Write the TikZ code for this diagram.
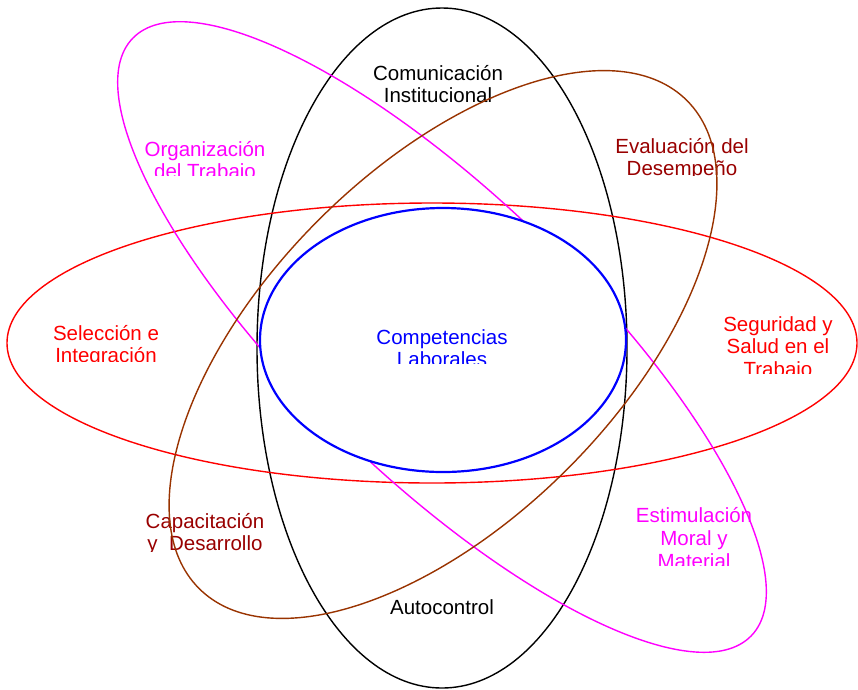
\documentclass[tikz,border=0pt]{standalone}
\usepackage{fontspec}
\setmainfont{Liberation Sans}
\definecolor{mag}{RGB}{255,0,255}
\definecolor{brn}{RGB}{153,51,0}
\definecolor{dred}{RGB}{153,0,0}
\definecolor{blu}{RGB}{0,0,255}
\definecolor{rd}{RGB}{255,0,0}
\begin{document}
\begin{tikzpicture}[x=1pt,y=-1pt,
  lbl/.style={anchor=base,inner sep=0pt,font=\fontsize{20.5}{22}\selectfont},
  ring/.style={line width=1.4pt}]
\useasboundingbox[fill=white] (0,0) rectangle (858,689);
% labels (clipped like the reference)
\begin{scope}\clip (330,50) rectangle (550,103);
 \node[lbl,text=black] (c1) at (438,80) {Comunicación};
 \node[lbl,text=black] (c2) at (438,102) {Institucional};
\end{scope}
\begin{scope}\clip (590,120) rectangle (780,175);
 \node[lbl,text=dred] (e1) at (682,153) {Evaluación del};
 \node[lbl,text=dred] (e2) at (682,175) {Desempeño};
\end{scope}
\begin{scope}\clip (120,120) rectangle (290,175);
 \node[lbl,text=mag] (o1) at (205,156) {Organización};
 \node[lbl,text=mag] (o2) at (205,178) {del Trabajo};
\end{scope}
\begin{scope}\clip (30,300) rectangle (190,361);
 \node[lbl,text=rd] (s1) at (106,340) {Selección e};
 \node[lbl,text=rd] (s2) at (106,362) {Integración};
\end{scope}
\begin{scope}\clip (700,290) rectangle (858,373);
 \node[lbl,text=rd] (g1) at (778,331) {Seguridad y};
 \node[lbl,text=rd] (g2) at (778,353) {Salud en el};
 \node[lbl,text=rd] (g3) at (778,376) {Trabajo};
\end{scope}
\begin{scope}\clip (120,490) rectangle (290,551);
 \node[lbl,text=dred] (k1) at (205,528) {Capacitación};
 \node[lbl,text=dred] (k2) at (205,550) {y\ \ Desarrollo};
\end{scope}
\begin{scope}\clip (610,490) rectangle (780,565);
 \node[lbl,text=mag] (m1) at (694,522) {Estimulación};
 \node[lbl,text=mag] (m2) at (694,545) {Moral y};
 \node[lbl,text=mag] (m3) at (694,568) {Material};
\end{scope}
\node[lbl,text=black] (a1) at (442,614) {Autocontrol};
% ellipses
\coordinate (ctr) at (442,348);
\draw[ring,black] (ctr) ellipse [x radius=185pt, y radius=340pt];
\draw[ring,rd] (432,343) ellipse [x radius=425pt, y radius=140pt];
\coordinate (mc) at (442,337);
\draw[ring,mag,rotate around={-44:(mc)}] (mc) ellipse [x radius=430pt, y radius=140pt];
\coordinate (bc) at (443,344.5);
\draw[ring,brn,rotate around={45:(bc)}] (bc) ellipse [x radius=345pt, y radius=176pt];
\draw[line width=2.2pt,blu,fill=white] (443,340) ellipse [x radius=183pt, y radius=132pt];
\begin{scope}\clip (340,300) rectangle (545,363);
 \node[lbl,text=blu] (p1) at (442,344) {Competencias};
 \node[lbl,text=blu] (p2) at (442,366) {Laborales};
\end{scope}
\end{tikzpicture}
\end{document}
